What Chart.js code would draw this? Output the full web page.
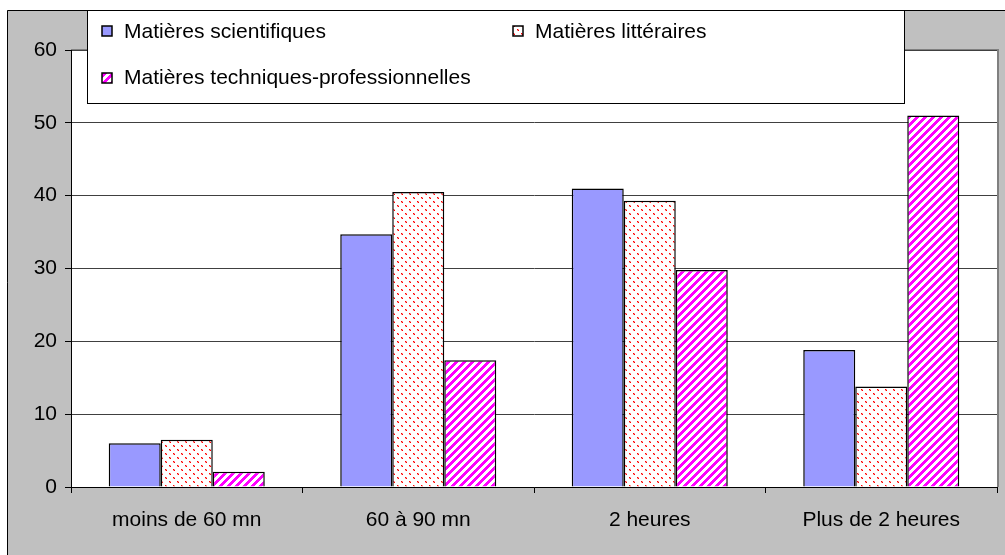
<!DOCTYPE html>
<html>
<head>
<meta charset="utf-8">
<script src="https://cdn.jsdelivr.net/npm/chart.js@4.4.1/dist/chart.umd.min.js"></script>
<style>
body{margin:0;background:#fff}
#wrap{width:1005px;height:555px}
</style>
</head>
<body>
<div id="wrap"><canvas id="chart" width="1005" height="555"></canvas></div>
<script>
// valeurs (en %)
const categories=["moins de 60 mn","60 à 90 mn","2 heures","Plus de 2 heures"];
const seriesNames=["Matières scientifiques","Matières littéraires","Matières techniques-professionnelles"];
const scientifiques=[6.0,34.7,41.0,18.8];
const litteraires=[6.5,40.5,39.3,13.8];
const techniques=[2.1,17.4,29.8,51.0];
const yTicks=[0,10,20,30,40,50,60];

const FONT='"Liberation Sans", Arial, sans-serif';

// motifs de remplissage (style Excel)
function makeTile(draw){
    const c=document.createElement('canvas');
    c.width=8;c.height=8;
    const x=c.getContext('2d');
    x.fillStyle='#ffffff';
    x.fillRect(0,0,8,8);
    draw(x);
    return document.getElementById('chart').getContext('2d').createPattern(c,'repeat');
}
const dots=makeTile(x=>{
    x.fillStyle='#ff9a9a';
    x.fillRect(1,1,2,2);x.fillRect(5,5,2,2);
    x.fillStyle='#ff0000';
    x.fillRect(1,1,1,1);x.fillRect(5,5,1,1);
    x.fillRect(2,2,1,1);x.fillRect(6,6,1,1);
});
const stripes=makeTile(x=>{
    x.fillStyle='#ff00ff';
    for(let j=0;j<8;j++){
        for(let i=0;i<8;i++){
            if((i+j)%8<4) x.fillRect(i,j,1,1);
        }
    }
});
const fills=['#9999FF',dots,stripes];

const frame={
    id:'frame',
    beforeDraw(chart){
        const ctx=chart.ctx,a=chart.chartArea;
        ctx.save();
        ctx.fillStyle='#fff';
        ctx.fillRect(0,0,chart.width,chart.height);
        ctx.fillStyle='#C0C0C0';
        ctx.fillRect(7,10,chart.width-7,chart.height-10);
        ctx.strokeStyle='#000';
        ctx.lineWidth=1;
        ctx.beginPath();
        ctx.moveTo(7.5,chart.height);ctx.lineTo(7.5,10.5);ctx.lineTo(chart.width,10.5);
        ctx.stroke();
        ctx.fillStyle='#fff';
        ctx.fillRect(a.left,a.top,a.right-a.left,a.bottom-a.top);
        ctx.strokeStyle='#808080';
        ctx.lineWidth=2;
        ctx.beginPath();
        ctx.moveTo(a.left,a.top);ctx.lineTo(a.right+1,a.top);ctx.lineTo(a.right+1,a.bottom);
        ctx.stroke();
        ctx.restore();
    },
    afterDraw(chart){
        const ctx=chart.ctx;
        ctx.save();
        ctx.fillStyle='#fff';
        ctx.fillRect(87,10,817,93);
        ctx.strokeStyle='#000';
        ctx.lineWidth=1;
        ctx.strokeRect(87.5,10.5,817,93);
        const items=[[102,26,124,32],[513,26,535,32],[102,73,124,78]];
        ctx.font='21px '+FONT;
        ctx.textBaseline='middle';
        items.forEach((it,i)=>{
            ctx.fillStyle=fills[i];
            ctx.fillRect(it[0],it[1],10,10);
            ctx.lineWidth=1.5;
            ctx.strokeStyle='#000';
            ctx.strokeRect(it[0],it[1],10,10);
            ctx.fillStyle='#000';
            ctx.fillText(seriesNames[i],it[2],it[3]);
        });
        ctx.restore();
    }
};

const ctx=document.getElementById('chart').getContext('2d');
new Chart(ctx,{
    type:'bar',
    data:{
        labels:categories,
        datasets:[scientifiques,litteraires,techniques].map((d,i)=>({
            label:seriesNames[i],
            data:d,
            backgroundColor:fills[i],
            borderColor:'#000',
            borderWidth:1.5,
            categoryPercentage:0.674,
            barPercentage:1.0
        }))
    },
    options:{
        responsive:false,
        animation:false,
        devicePixelRatio:1,
        layout:{padding:{top:50,right:8,left:0,bottom:0}},
        plugins:{legend:{display:false},tooltip:{enabled:false}},
        scales:{
            x:{
                afterFit(s){s.height=68;},
                grid:{offset:true,drawOnChartArea:false,tickLength:6,tickColor:'#000'},
                border:{display:true,color:'#000',width:1},
                ticks:{color:'#000',font:{family:FONT,size:21},padding:15,maxRotation:0}
            },
            y:{
                min:0,max:60,
                afterFit(s){s.width=71;},
                afterBuildTicks(s){s.ticks=yTicks.map(v=>({value:v}));},
                grid:{color:'#404040',lineWidth:1,tickLength:6,tickColor:'#000'},
                border:{display:true,color:'#000',width:1},
                ticks:{color:'#000',font:{family:FONT,size:21},padding:8}
            }
        }
    },
    plugins:[frame]
});
</script>
</body>
</html>
